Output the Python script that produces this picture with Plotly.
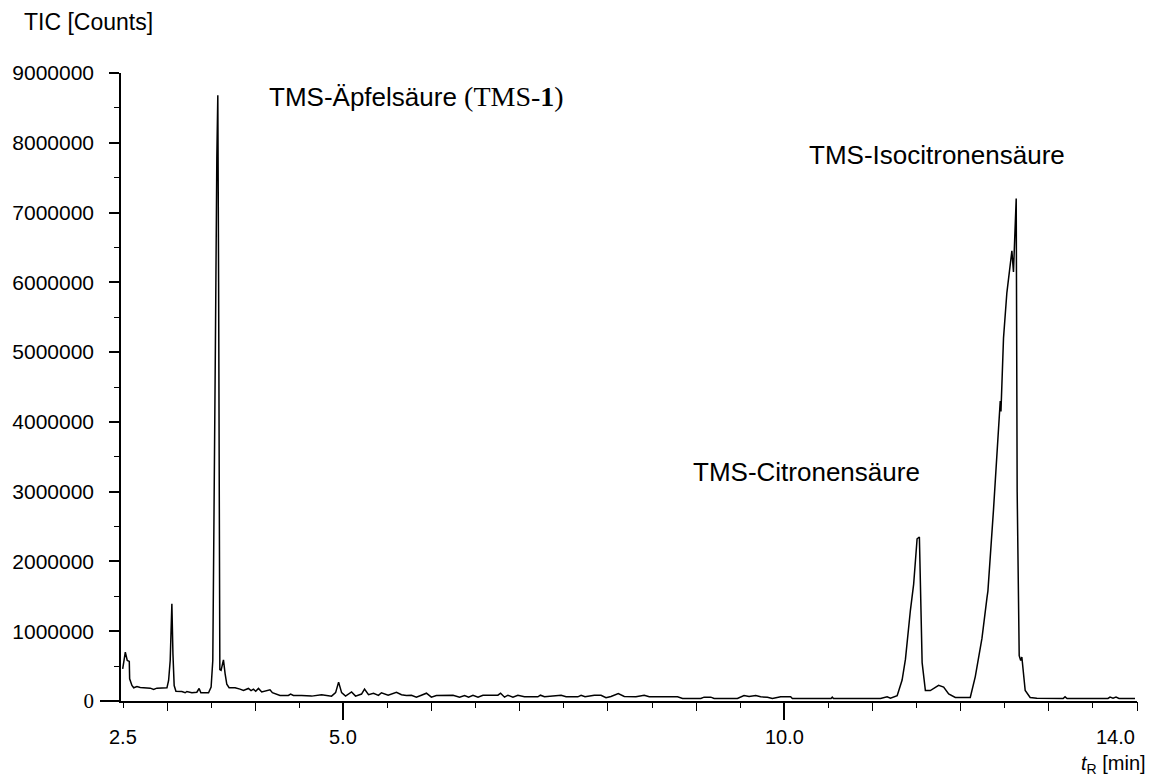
import plotly.graph_objects as go

# Total ion chromatogram (retention time in min, TIC in counts)
time_min = [
    2.496, 2.526, 2.548, 2.571, 2.575, 2.601, 2.621, 2.658, 2.695, 2.809,
    2.847, 2.884, 2.998, 3.017, 3.035, 3.054, 3.066, 3.080, 3.100, 3.167,
    3.205, 3.224, 3.281, 3.337, 3.363, 3.383, 3.470, 3.499, 3.518, 3.530,
    3.547, 3.564, 3.575, 3.584, 3.592, 3.598, 3.612, 3.639, 3.658, 3.677,
    3.703, 3.771, 3.827, 3.866, 3.922, 3.952, 3.979, 4.005, 4.036, 4.073,
    4.167, 4.194, 4.280, 4.375, 4.401, 4.432, 4.526, 4.639, 4.752, 4.865,
    4.911, 4.945, 4.979, 5.024, 5.092, 5.137, 5.205, 5.239, 5.284, 5.341,
    5.397, 5.431, 5.507, 5.601, 5.658, 5.714, 5.771, 5.827, 5.884, 5.941,
    5.997, 6.054, 6.243, 6.317, 6.374, 6.419, 6.469, 6.526, 6.582, 6.752,
    6.782, 6.827, 6.865, 6.922, 6.978, 7.053, 7.205, 7.234, 7.280, 7.469,
    7.525, 7.658, 7.695, 7.740, 7.845, 7.921, 7.978, 8.034, 8.117, 8.185,
    8.317, 8.411, 8.468, 8.638, 8.789, 8.846, 9.053, 9.090, 9.166, 9.204,
    9.468, 9.543, 9.600, 9.676, 9.732, 9.808, 9.865, 9.959, 10.072, 10.091,
    10.530, 10.544, 10.558, 11.091, 11.166, 11.204, 11.280, 11.336, 11.374, 11.430,
    11.467, 11.506, 11.532, 11.563, 11.600, 11.656, 11.750, 11.807, 11.864, 11.939,
    12.109, 12.166, 12.242, 12.298, 12.309, 12.373, 12.411, 12.449, 12.457, 12.486,
    12.524, 12.581, 12.599, 12.613, 12.630, 12.641, 12.664, 12.681, 12.694, 12.732,
    12.788, 12.864, 13.162, 13.184, 13.207, 13.671, 13.694, 13.728, 13.762, 13.796,
    13.977,
]

tic_counts = [
    462000, 700000, 581000, 567000, 318000, 222000, 189000, 208000, 194000, 184000,
    165000, 184000, 189000, 294000, 581000, 1394000, 677000, 222000, 141000, 136000,
    118000, 136000, 118000, 126000, 179000, 118000, 118000, 198000, 581000, 2000000,
    5000000, 7800000, 8680000, 6000000, 1000000, 450000, 440000, 590000, 390000, 240000,
    190000, 190000, 170000, 150000, 180000, 150000, 170000, 140000, 180000, 130000,
    160000, 120000, 80000, 80000, 100000, 80000, 80000, 70000, 90000, 70000,
    120000, 270000, 120000, 70000, 130000, 70000, 100000, 170000, 90000, 110000,
    80000, 118000, 83000, 126000, 89000, 79000, 83000, 55000, 83000, 112000,
    55000, 79000, 83000, 55000, 79000, 55000, 83000, 55000, 83000, 83000,
    112000, 55000, 83000, 55000, 83000, 60000, 60000, 83000, 60000, 83000,
    60000, 60000, 83000, 60000, 83000, 83000, 46000, 65000, 108000, 65000,
    60000, 83000, 60000, 60000, 60000, 36000, 36000, 55000, 55000, 36000,
    36000, 79000, 65000, 79000, 60000, 55000, 36000, 60000, 60000, 36000,
    36000, 55000, 36000, 36000, 60000, 40000, 75000, 300000, 600000, 1300000,
    1675000, 2325000, 2350000, 550000, 150000, 150000, 225000, 200000, 100000, 50000,
    50000, 350000, 900000, 1475000, 1575000, 2750000, 3550000, 4300000, 4150000, 5200000,
    5850000, 6450000, 6150000, 6700000, 7200000, 3000000, 650000, 580000, 630000, 150000,
    50000, 40000, 36000, 60000, 36000, 36000, 55000, 40000, 55000, 36000,
    36000,
]

# Axis ticks
y_tick_vals = [0, 1000000, 2000000, 3000000, 4000000, 5000000, 6000000, 7000000, 8000000, 9000000]
y_tick_text = ['<span style="font-family:\'Liberation Serif\'">0</span>', "1000000", "2000000",
               "3000000", "4000000", "5000000", "6000000", "7000000", "8000000", "9000000"]
x_tick_vals = [2.5, 5.0, 10.0, 14.0]
x_tick_text = ["2.5", "5.0", "10.0", "14.0"]

X_RANGE = [2.477, 14.0]
Y_RANGE = [0, 9000000]
SANS = "Liberation Sans, Arial, sans-serif"

fig = go.Figure()
fig.add_trace(go.Scatter(
    x=time_min, y=tic_counts, mode="lines",
    line=dict(color="black", width=1.5), showlegend=False,
))

axis_common = dict(showgrid=False, zeroline=False)

fig.update_layout(
    width=1161, height=780,
    margin=dict(l=119, r=24, t=73, b=79),
    paper_bgcolor="white", plot_bgcolor="white",
    font=dict(family=SANS, color="black", size=20),
    # half-minute ticks on the main axis
    xaxis=dict(
        **axis_common, range=X_RANGE, showline=True, linecolor="black", linewidth=1.5,
        ticks="outside", tickmode="linear", tick0=2.5, dtick=0.5,
        ticklen=5, tickwidth=1, tickcolor="black", showticklabels=False,
    ),
    # whole-minute ticks
    xaxis2=dict(
        **axis_common, range=X_RANGE, overlaying="x", anchor="y", side="bottom",
        showline=False, ticks="outside", tickmode="linear", tick0=3, dtick=1,
        ticklen=9, tickwidth=1, tickcolor="black", showticklabels=False,
    ),
    # labelled ticks
    xaxis3=dict(
        **axis_common, range=X_RANGE, overlaying="x", anchor="y", side="bottom",
        showline=False, ticks="outside", tickmode="array", tickvals=[5.0, 10.0],
        ticklen=18, tickwidth=1.5, tickcolor="black", showticklabels=False,
    ),
    yaxis=dict(
        **axis_common, range=Y_RANGE, showline=True, linecolor="black", linewidth=1.5,
        ticks="outside", tickmode="array", tickvals=y_tick_vals, ticktext=y_tick_text,
        ticklen=10, tickwidth=1.5, tickcolor="black",
        ticklabelstandoff=11,
        tickfont=dict(family=SANS, size=21, color="black"),
        minor=dict(ticks="outside", dtick=500000, tick0=0, ticklen=5, tickwidth=1, tickcolor="black"),
    ),
    # longer tick at the zero line
    yaxis2=dict(
        **axis_common, range=Y_RANGE, overlaying="y", anchor="x", side="left",
        showline=False, ticks="outside", tickmode="array", tickvals=[0],
        ticklen=20, tickwidth=1.5, tickcolor="black", showticklabels=False,
    ),
)

# invisible traces so the overlay axes are drawn
fig.add_trace(go.Scatter(x=[X_RANGE[0]], y=[0], xaxis="x2", mode="markers",
                         marker=dict(opacity=0), showlegend=False, hoverinfo="skip"))
fig.add_trace(go.Scatter(x=[X_RANGE[0]], y=[0], xaxis="x3", mode="markers",
                         marker=dict(opacity=0), showlegend=False, hoverinfo="skip"))
fig.add_trace(go.Scatter(x=[X_RANGE[0]], y=[0], yaxis="y2", mode="markers",
                         marker=dict(opacity=0), showlegend=False, hoverinfo="skip"))

# x tick labels
for val, txt in zip(x_tick_vals, x_tick_text):
    fig.add_annotation(
        x=val, xref="x", y=0, yref="paper", text=txt, showarrow=False,
        xanchor="right" if val == X_RANGE[1] else "center", yanchor="top", yshift=-23,
        font=dict(family=SANS, size=20, color="black"),
    )

# axis titles
fig.add_annotation(
    x=0, xref="paper", y=1, yref="paper", xshift=-99, yshift=51,
    text="TIC [Counts]", showarrow=False, xanchor="left", yanchor="middle",
    font=dict(family=SANS, size=23, color="black"),
)
fig.add_annotation(
    x=1, xref="paper", y=0, yref="paper", xshift=11, yshift=-63,
    text="<i>t</i><sub>R</sub> [min]", showarrow=False, xanchor="right", yanchor="middle",
    font=dict(family=SANS, size=20, color="black"),
)

# peak labels
peak_font = dict(family=SANS, size=26, color="black")
fig.add_annotation(
    x=4.13, y=8659000, xref="x", yref="y", xanchor="left", yanchor="middle", showarrow=False,
    text='TMS-Äpfelsäure <span style="font-family:\'Liberation Serif\';font-size:28px">(TMS-<b>1</b>)</span>',
    font=peak_font,
)
fig.add_annotation(
    x=10.253, y=7826000, xref="x", yref="y", xanchor="left", yanchor="middle", showarrow=False,
    text="TMS-Isocitronensäure", font=peak_font,
)
fig.add_annotation(
    x=8.94, y=3278000, xref="x", yref="y", xanchor="left", yanchor="middle", showarrow=False,
    text="TMS-Citronensäure", font=peak_font,
)

fig.write_html("out.html")
